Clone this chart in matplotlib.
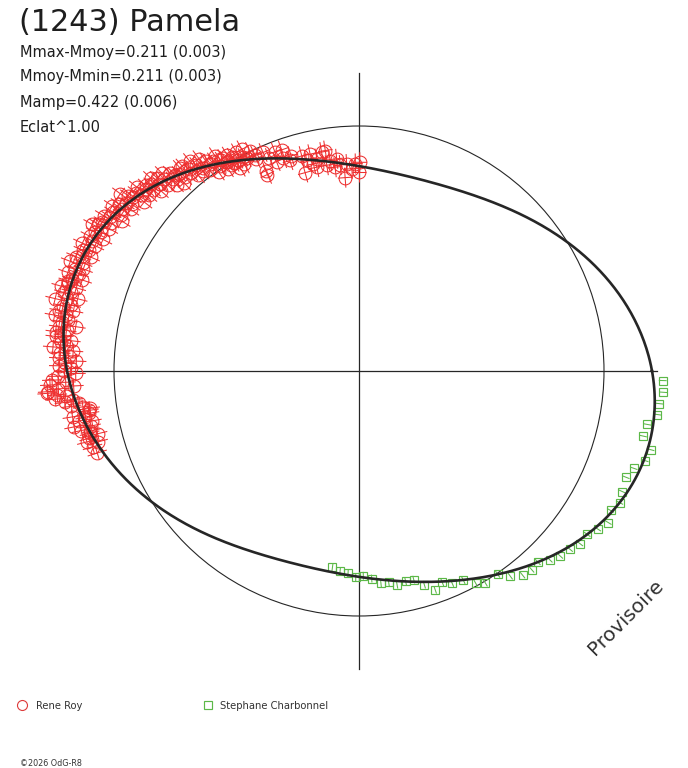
import numpy as np
import matplotlib
matplotlib.use("Agg")
import matplotlib.pyplot as plt
from matplotlib.collections import LineCollection
from matplotlib.patches import Circle
from matplotlib.lines import Line2D

plt.rcParams['font.family'] = ['DejaVu Sans']

# ---------------- data ----------------
title = "(1243) Pamela"
stats_lines = ["Mmax-Mmoy=0.211 (0.003)", "Mmoy-Mmin=0.211 (0.003)",
               "Mamp=0.422 (0.006)", "Eclat^1.00"]
observers = ["Rene Roy", "Stephane Charbonnel"]

# fitted lightcurve: relative flux (1 = mean) vs rotation phase (deg)
fit_phase_deg = [0, 10, 20, 30, 40, 50, 60, 70, 80, 90, 100, 110,
                 120, 130, 140, 150, 160, 170, 180, 190, 200, 210, 220, 230,
                 240, 250, 260, 270, 280, 290, 300, 310, 320, 330, 340, 350]
fit_flux = [1.195, 1.149, 1.084, 1.010, 0.945, 0.888, 0.845, 0.822, 0.820, 0.837, 0.873, 0.924,
            0.988, 1.065, 1.145, 1.202, 1.221, 1.211, 1.202, 1.139, 1.086, 1.012, 0.947, 0.898,
            0.859, 0.832, 0.824, 0.837, 0.871, 0.918, 0.980, 1.039, 1.114, 1.180, 1.220, 1.214]
fit_order = 6

# Rene Roy: phase (deg) and O-C (relative flux)
red_phase_deg = [89.8, 90.0, 91.0, 92.0, 93.4, 94.1, 95.2, 96.0, 96.7, 97.8, 98.7, 98.9, 99.7, 101.2,
                 101.7, 102.4, 102.7, 103.9, 104.9, 105.2, 107.5, 108.2, 109.3, 109.6, 111.0, 111.5,
                 112.8, 113.7, 114.8, 115.0, 115.7, 115.9, 116.4, 117.8, 117.9,
                 118.5, 119.0, 119.3, 119.8, 120.3, 120.6, 121.0, 121.4, 121.9, 122.2, 122.5, 122.9,
                 123.3, 123.8, 124.2, 124.8, 125.2, 125.7, 126.1, 126.6, 127.0, 127.5, 128.0, 128.4,
                 128.9, 129.4, 129.8, 130.3, 130.8, 131.4, 131.9, 132.4, 132.9, 133.2, 133.7, 134.1,
                 134.4, 134.9,
                 135.4, 135.8, 136.3, 136.8, 137.2, 137.7, 138.1, 138.6, 139.0, 139.5, 140.0, 140.4,
                 140.9, 141.4, 141.8, 142.3, 142.8, 143.4, 143.7, 144.2, 144.7, 145.2, 145.7, 146.2,
                 146.7, 147.2, 147.7, 148.2, 148.7, 149.2, 149.8, 150.3, 150.6, 151.2, 151.7, 152.3,
                 152.8, 153.4, 154.0, 154.6, 155.2, 155.8, 156.4, 157.0, 157.5, 158.0, 158.6, 159.2,
                 159.7,
                 160.3, 160.8, 161.3, 161.8, 162.3, 162.8, 163.1, 163.6, 164.1, 164.6, 165.1, 165.6,
                 166.1, 166.6, 167.1, 167.6, 168.1, 168.6, 169.1, 169.6, 170.1, 170.6, 171.1, 171.6,
                 172.1, 172.6, 173.1, 173.5, 174.0, 174.5, 175.0, 175.5, 176.0, 176.5, 177.0, 177.5,
                 178.0, 178.5, 179.0, 179.5, 180.0, 180.5, 181.0, 181.7,
                 182.2, 182.6, 183.0, 183.4, 183.8, 184.1, 184.5, 184.9, 185.3, 185.7, 186.1, 186.6,
                 187.0, 187.4, 187.9, 188.3, 188.9, 189.1, 189.6, 190.1, 190.6, 191.1, 191.6, 192.1,
                 192.6, 193.0, 193.5, 194.0, 194.6, 195.2, 195.9, 197.4]
red_oc = [0.016, -0.024, 0.008, -0.016, 0.000, -0.057, -0.008, 0.016, -0.020, 0.004, 0.045, -0.016, 0.037, 0.008,
          -0.029, -0.016, 0.024, -0.004, 0.014, -0.057, 0.012, -0.008, 0.037, 0.000, 0.029, -0.014,
          0.004, 0.027, -0.053, -0.071, 0.019, 0.000, 0.036, 0.008, 0.047,
          0.012, -0.020, 0.037, 0.004, -0.033, 0.020, -0.008, 0.029, -0.016, 0.000, 0.022, -0.029,
          0.012, 0.037, -0.012, 0.016, -0.037, 0.004, 0.024, -0.020, 0.041, -0.004, -0.018, 0.016,
          0.041, -0.029, 0.008, -0.012, 0.029, 0.027, -0.020, 0.004, -0.041, 0.007, 0.020, -0.008,
          -0.037, 0.033,
          0.008, -0.024, 0.024, -0.004, 0.037, -0.033, 0.012, -0.012, 0.020, 0.004, -0.024, 0.033,
          -0.008, 0.016, -0.037, 0.008, 0.024, 0.051, -0.016, 0.004, -0.029, 0.020, -0.004, 0.033,
          -0.020, 0.012, -0.041, 0.008, 0.029, -0.012, 0.016, -0.024, 0.024, 0.041, -0.008, 0.012,
          -0.033, 0.020, 0.000, -0.020, 0.029, -0.008, 0.012, -0.029, 0.004, 0.026, -0.012, 0.037,
          -0.024,
          0.008, -0.016, 0.029, -0.037, 0.004, 0.016, 0.014, -0.024, 0.037, -0.008, 0.020, -0.041,
          0.000, 0.049, -0.020, 0.012, -0.033, 0.024, -0.004, 0.041, -0.016, 0.008, -0.049, 0.020,
          -0.012, 0.033, 0.000, 0.033, -0.029, 0.012, -0.008, 0.045, -0.037, 0.016, -0.016, 0.024,
          -0.045, 0.004, 0.029, -0.020, 0.012, -0.033, 0.041, 0.069,
          0.016, 0.082, -0.012, 0.053, 0.098, 0.102, 0.065, 0.033, 0.078, 0.008, 0.045, -0.008,
          0.024, -0.020, -0.045, -0.037, -0.034, 0.037, -0.012, 0.020, -0.029, 0.049, -0.016, 0.029,
          -0.004, 0.004, -0.024, 0.016, 0.033, -0.008, 0.024, 0.022]
red_err = 0.041

# Stephane Charbonnel: phase (deg) and O-C (relative flux)
green_phase_deg = [358.2, 356.0, 353.8, 351.7, 349.5, 347.1, 344.9, 342.6, 340.5, 338.3, 335.4,
                   333.2, 331.0, 328.7, 326.5, 324.4, 322.0, 319.8, 317.4, 315.3, 313.1, 311.0,
                   308.7, 306.4, 304.3, 300.8, 298.8, 296.5, 293.7, 291.5, 289.2, 287.0, 284.7,
                   282.5, 280.1, 278.0, 275.9, 273.5, 271.2, 269.1, 266.9, 264.6, 262.3]
green_oc = [0.038, 0.036, 0.018, 0.013, -0.023, -0.032, 0.012, 0.004, -0.025, -0.037, -0.018,
            0.000, -0.008, 0.020, 0.010, 0.000, 0.014, 0.011, 0.016, 0.011, 0.000, 0.021,
            0.032, 0.021, 0.000, 0.027, 0.020, 0.002, 0.010, 0.004, 0.035, 0.012, -0.009,
            0.000, 0.016, 0.008, 0.016, 0.000, -0.007, 0.004, -0.008, -0.011, -0.020]
green_err = 0.016

# ---------------- layout ----------------
W, H = 688, 768
CX, CY, S = 359, 371, 245.0   # pixel centre and pixel size of the mean-flux circle

fig = plt.figure(figsize=(W / 100, H / 100), dpi=100)
fig.patch.set_facecolor('white')
ax = fig.add_axes([0, 0, 1, 1])
ax.set_xlim(-CX / S, (W - CX) / S)
ax.set_ylim(-(H - CY) / S, CY / S)
ax.axis('off')

# Fourier (harmonic) least-squares fit of the lightcurve
fd = np.radians(np.array(fit_phase_deg, float))
ff = np.array(fit_flux, float)


def design(t):
    cols = [np.ones_like(t)]
    for k in range(1, fit_order + 1):
        cols += [np.cos(k * t), np.sin(k * t)]
    return np.column_stack(cols)


coef, *_ = np.linalg.lstsq(design(fd), ff, rcond=None)


def model(deg):
    return design(np.radians(np.asarray(deg, float))) @ coef


# axes cross and mean circle
ext = 1.216
ax.plot([-ext, ext], [0, 0], color='#262626', lw=0.9, zorder=1)
ax.plot([0, 0], [-ext, ext], color='#262626', lw=0.9, zorder=1)
ax.add_patch(Circle((0, 0), 1.0, fill=False, ec='#262626', lw=0.8, zorder=1))


def polar_points(deg, oc):
    th = np.radians(np.asarray(deg, float))
    r = model(deg) + np.asarray(oc, float)
    return th, r


# Rene Roy
th, r = polar_points(red_phase_deg, red_oc)
x, y = r * np.cos(th), r * np.sin(th)
radial = [[((ri - red_err) * np.cos(t), (ri - red_err) * np.sin(t)),
           ((ri + red_err) * np.cos(t), (ri + red_err) * np.sin(t))] for t, ri in zip(th, r)]
et = 0.030
tang = [[(xi + et * np.sin(t), yi - et * np.cos(t)), (xi - et * np.sin(t), yi + et * np.cos(t))]
        for t, xi, yi in zip(th, x, y)]
red_col = '#ee3030'
ax.add_collection(LineCollection(radial, colors=red_col, linewidths=0.75, zorder=3))
ax.add_collection(LineCollection(tang, colors=red_col, linewidths=0.75, zorder=3))
ax.plot(x, y, ls='none', marker='o', ms=9.2, mfc='none', mec=red_col, mew=0.75, zorder=3)

# Stephane Charbonnel
th, r = polar_points(green_phase_deg, green_oc)
x, y = r * np.cos(th), r * np.sin(th)
radial = [[((ri - green_err) * np.cos(t), (ri - green_err) * np.sin(t)),
           ((ri + green_err) * np.cos(t), (ri + green_err) * np.sin(t))] for t, ri in zip(th, r)]
green_col = '#5cb848'
ax.add_collection(LineCollection(radial, colors=green_col, linewidths=0.75, zorder=3))
ax.plot(x, y, ls='none', marker='s', ms=5.2, mfc='none', mec=green_col, mew=0.85, zorder=3)

# fitted curve
grid_deg = np.linspace(0, 360, 721)
rf = model(grid_deg)
thf = np.radians(grid_deg)
ax.plot(rf * np.cos(thf), rf * np.sin(thf), color='#262626', lw=1.9, zorder=4)

# ---------------- texts ----------------
fig.text(19 / W, 1 - 31 / H, title, fontsize=21.8, color='#1e1e1e', va='baseline', ha='left')
for i, s in enumerate(stats_lines):
    fig.text(20 / W, 1 - (56.5 + 25 * i) / H, s, fontsize=10.5, color='#1e1e1e',
             va='baseline', ha='left')

fig.text(626 / W, 1 - 617 / H, 'Provisoire', rotation=45, fontsize=14.5, color='#333333',
         ha='center', va='center')

# legend
fig.add_artist(Line2D([22.3 / W], [1 - 704.5 / H], marker='o', ms=7.2, mfc='none',
                      mec='#dd3a3a', mew=0.8, ls='none', transform=fig.transFigure))
fig.text(35.5 / W, 1 - 709.3 / H, observers[0], fontsize=7.2, color='#333333', va='baseline')
fig.add_artist(Line2D([207.7 / W], [1 - 705 / H], marker='s', ms=5.2, mfc='none',
                      mec=green_col, mew=0.85, ls='none', transform=fig.transFigure))
fig.text(220.5 / W, 1 - 709.3 / H, observers[1], fontsize=7.2, color='#333333', va='baseline')

fig.text(20 / W, 1 - 766 / H, '\u00a92026 OdG-R8', fontsize=5.8, color='#333333', va='baseline')

fig.savefig('out.png', dpi=100, facecolor='white')
